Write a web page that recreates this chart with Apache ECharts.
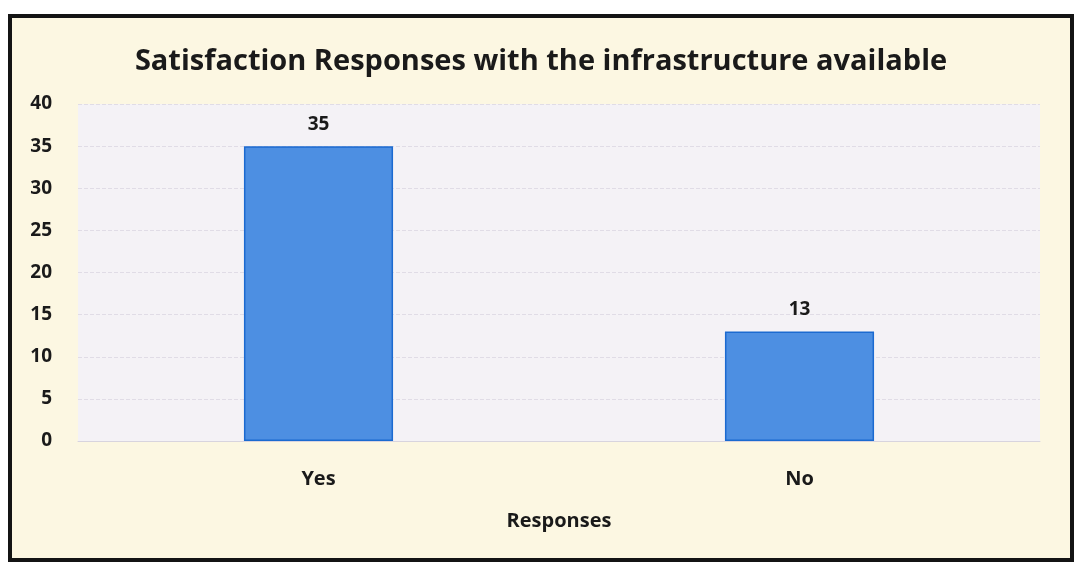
<!DOCTYPE html>
<html>
<head>
<meta charset="utf-8">
<script src="https://cdn.jsdelivr.net/npm/echarts@6/dist/echarts.min.js"></script>
<style>
    html, body { margin: 0; padding: 0; background: #ffffff; }
    #frame {
        position: absolute;
        left: 8px; top: 14px;
        width: 1058px; height: 540px;
        border: 4px solid #141414;
        background: #fcf7e2;
    }
    #container { width: 100%; height: 100%; }
</style>
</head>
<body>
<div id="frame"><div id="container"></div></div>
<script>
var categories = ['Yes', 'No'];
var responses = [35, 13];
var yTicks = [0, 40, 5]; // min, max, interval

document.addEventListener('DOMContentLoaded', function () {
    var chartDom = document.getElementById('container');
    var myChart = echarts.init(chartDom);
    var font = '"Open Sans", "Noto Sans", sans-serif';

    var option = {
        title: {
            text: 'Satisfaction Responses with the infrastructure available',
            left: 'center',
            top: 24,
            textStyle: {
                fontSize: 29,
                fontFamily: font,
                fontWeight: 'bold',
                color: '#1a1a1a'
            }
        },
        grid: {
            left: 66,
            right: 30,
            top: 86,
            bottom: 117,
            show: true,
            backgroundColor: '#f4f2f6',
            borderWidth: 0
        },
        xAxis: {
            type: 'category',
            data: categories,
            name: 'Responses',
            nameLocation: 'middle',
            nameGap: 70,
            nameTextStyle: {
                fontSize: 20,
                fontFamily: font,
                fontWeight: 'bold',
                color: '#1a1a1a'
            },
            axisLabel: {
                fontSize: 20,
                fontFamily: font,
                fontWeight: 'bold',
                color: '#1a1a1a',
                margin: 28
            },
            axisLine: { show: true, lineStyle: { color: '#d8d4de', width: 1 } },
            axisTick: { show: false }
        },
        yAxis: {
            type: 'value',
            min: yTicks[0],
            max: yTicks[1],
            interval: yTicks[2],
            axisLabel: {
                fontSize: 19,
                fontFamily: font,
                fontWeight: 'bold',
                color: '#1a1a1a',
                margin: 26
            },
            axisLine: { show: false },
            axisTick: { show: false },
            splitLine: {
                show: true,
                lineStyle: { color: '#e0dce6', type: 'dashed', width: 1 }
            }
        },
        series: [
            {
                name: 'Responses',
                type: 'bar',
                barWidth: '31%',
                data: responses,
                itemStyle: {
                    color: '#4d8fe2',
                    borderColor: '#1b6ad0',
                    borderWidth: 1.5
                },
                label: {
                    show: true,
                    position: 'top',
                    distance: 12,
                    fontSize: 19,
                    fontFamily: font,
                    fontWeight: 'bold',
                    color: '#1a1a1a'
                }
            }
        ]
    };

    option && myChart.setOption(option);
});
</script>
</body>
</html>
